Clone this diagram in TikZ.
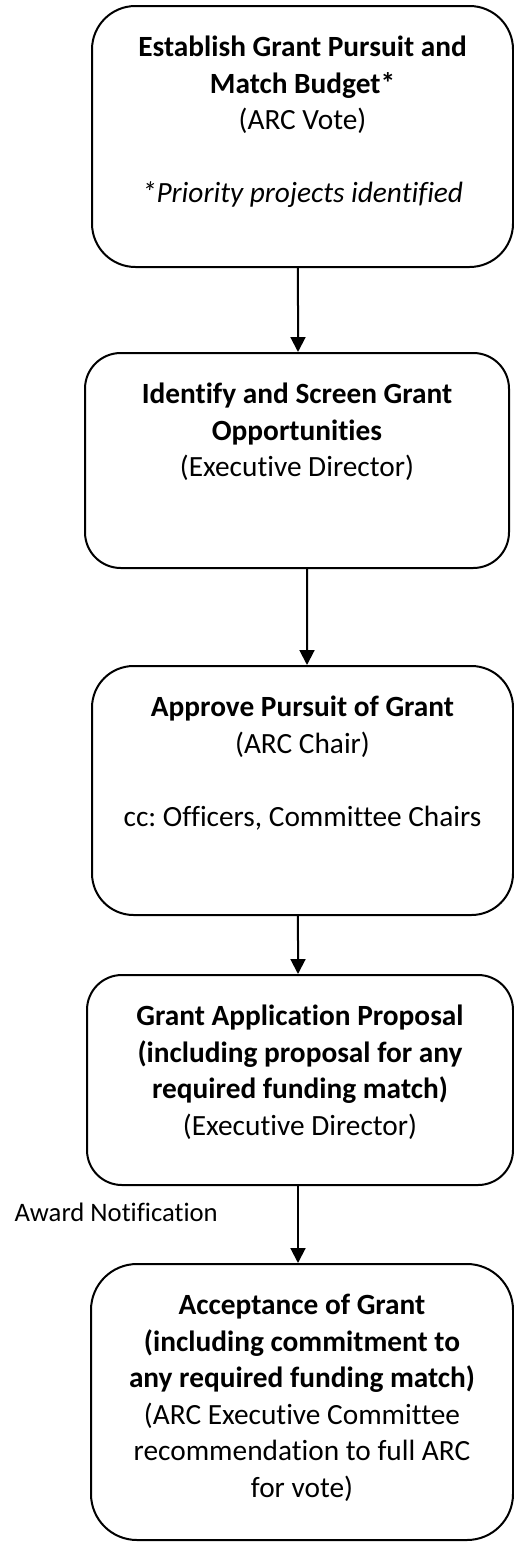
\documentclass[tikz,border=0pt]{standalone}
\usepackage{fontspec}
\setmainfont{Carlito}[Ligatures=NoCommon]
\usetikzlibrary{arrows.meta}
\frenchspacing

\begin{document}
\begin{tikzpicture}[x=0.375pt,y=-0.375pt,
  stepbox/.style={draw,line width=0.75pt,inner sep=0pt,font=\fontsize{11pt}{13.69pt}\selectfont},
  flow/.style={line width=0.75pt,-{Triangle[width=5.6pt,length=5.6pt]}}]
\useasboundingbox (0,0) rectangle (514,1542);
\node[stepbox,rounded corners=16.3pt] (establish) at (302.5,136.5) {\parbox[c][97.875pt][t]{157.875pt}{\centering\rule{0pt}{18.94pt}\bfseries Establish Grant Pursuit and\\ Match Budget*\\ \mdseries (ARC Vote)\\[13.69pt] \itshape *Priority projects identified}};
\node[stepbox,rounded corners=13.4pt] (identify) at (297,460.5) {\parbox[c][80.625pt][t]{159pt}{\centering\rule{0pt}{18.94pt}\bfseries Identify and Screen Grant\\ Opportunities\\ \mdseries (Executive Director)}};
\node[stepbox,rounded corners=15.6pt] (approve) at (302.5,790.5) {\parbox[c][93.375pt][t]{157.875pt}{\centering\rule{0pt}{18.94pt}\bfseries Approve Pursuit of Grant\\ \mdseries (ARC Chair)\\[13.69pt] cc: Officers, Committee Chairs}};
\node[stepbox,rounded corners=13.1pt] (proposal) at (300,1080) {\parbox[c][78.75pt][t]{159.75pt}{\centering\rule{0pt}{18.94pt}\bfseries Grant Application Proposal\\ (including proposal for any\\ required funding match)\\ \mdseries (Executive Director)}};
\node[stepbox,rounded corners=17.25pt] (acceptance) at (302,1402) {\parbox[c][103.5pt][t]{158.25pt}{\centering\rule{0pt}{18.94pt}\bfseries Acceptance of Grant\\ (including commitment to\\ any required funding match)\\ \mdseries (ARC Executive Committee\\ recommendation to full ARC\\ for vote)}};
\node[anchor=base west,inner sep=0pt,font=\fontsize{10pt}{12.2pt}\selectfont] (award) at (14,1221.7) {Award Notification};
\draw[flow] ([xshift=-1.69pt]establish.south) -- ([xshift=0.375pt]identify.north);
\draw[flow] ([xshift=3.75pt]identify.south) -- ([xshift=1.69pt]approve.north);
\draw[flow] ([xshift=-1.69pt]approve.south) -- ([xshift=-0.75pt]proposal.north);
\draw[flow] ([xshift=-0.75pt]proposal.south) -- ([xshift=-1.5pt]acceptance.north);
\end{tikzpicture}
\end{document}
